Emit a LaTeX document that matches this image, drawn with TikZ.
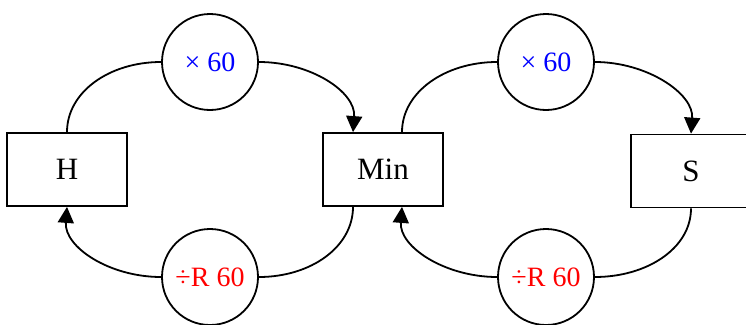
\documentclass[tikz,border=0pt]{standalone}
\usepackage{fontspec}
\setmainfont{Liberation Serif}
\usetikzlibrary{arrows.meta}
\definecolor{lblblue}{RGB}{0,0,255}
\definecolor{lblred}{RGB}{255,0,0}
\begin{document}
\begin{tikzpicture}[x=1pt,y=-1pt,
  unitbox/.style={draw,line width=1.8pt,minimum width=120pt,minimum height=73pt,inner sep=0pt,font=\fontsize{31}{35}\selectfont},
  opcircle/.style={draw,circle,line width=1.8pt,minimum size=96pt,inner sep=0pt,font=\fontsize{28}{31}\selectfont},
  link/.style={line width=1.8pt},
  arr/.style={link,-{Triangle[length=16pt,width=16pt]}}]
\useasboundingbox (0,0) rectangle (746,324);
\node[unitbox] (H) at (67,169.5) {H};
\node[unitbox] (Min) at (383,169.5) {Min};
\node[unitbox] (S) at (691,171) {S};
\node[opcircle,text=lblblue] (m1) at (210,62) {× 60};
\node[opcircle,text=lblred] (d1) at (210,277) {÷R 60};
\node[opcircle,text=lblblue] (m2) at (546,62) {× 60};
\node[opcircle,text=lblred] (d2) at (546,277) {÷R 60};
% left loop
\draw[link] (H.north) .. controls +(0,-40) and +(-52,0) .. (m1.west);
\draw[arr] (m1.east) .. controls +(52,0) and +(3,-40) .. ([xshift=-30pt]Min.north);
\draw[link] ([xshift=-30pt]Min.south) .. controls +(0,40) and +(52,0) .. (d1.east);
\draw[arr] (d1.west) .. controls +(-52,0) and +(-3,40) .. (H.south);
% right loop
\draw[link] ([xshift=19pt]Min.north) .. controls +(0,-40) and +(-52,0) .. (m2.west);
\draw[arr] (m2.east) .. controls +(52,0) and +(3,-40) .. (S.north);
\draw[link] (S.south) .. controls +(0,40) and +(52,0) .. (d2.east);
\draw[arr] (d2.west) .. controls +(-52,0) and +(-3,40) .. ([xshift=19pt]Min.south);
\end{tikzpicture}
\end{document}
